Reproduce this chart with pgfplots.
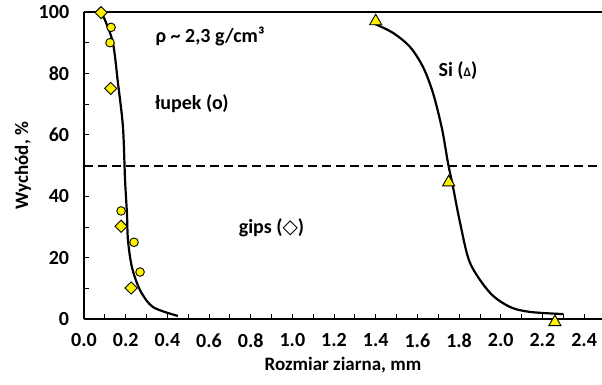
\documentclass[border=0pt]{standalone}
\usepackage{fontspec}
\setmainfont{Carlito}
\newfontfamily\dejavu{DejaVu Sans}
\usepackage{pgfplots}
\pgfplotsset{compat=1.18}
\begin{document}
\fontsize{20}{23}\selectfont
\begin{tikzpicture}
\begin{axis}[
  at={(0,0)}, anchor=south west,
  scale only axis, width=518pt, height=307pt,
  xmin=0, xmax=2.486, ymin=0, ymax=100,
  axis x line=bottom, axis y line=left,
  axis line style={-, line width=2.2pt},
  xtick={0,0.2,...,2.41}, minor x tick num=1,
  ytick={0,20,...,100}, minor y tick num=1,
  tick align=inside, major tick length=5pt, minor tick length=5pt,
  tick style={line width=0.8pt, black},
  ticklabel style={font=\fontsize{20}{23}\selectfont\bfseries},
  xticklabel style={yshift=-8pt, /pgf/number format/.cd, fixed, fixed zerofill, precision=1},
  yticklabel style={xshift=-8pt},
  /pgf/number format/assume math mode=true,
  xlabel={\bfseries Rozmiar ziarna, mm},
  ylabel={\bfseries Wychód, \%},
  label style={font=\fontsize{19}{22}\selectfont},
  xlabel style={yshift=4pt},
  ylabel style={yshift=-6pt},
  clip=false,
]
\draw[line width=2.2pt] (rel axis cs:0,1) -- (rel axis cs:1,1);
\addplot[black, line width=2pt, dash pattern=on 9pt off 5pt] coordinates {(0,50) (2.486,50)};
% fitted curve for lupek/gips
\addplot[black, line width=2.2pt, smooth, tension=0.5] coordinates {
 (0.080,100) (0.100,97.5) (0.139,89.9) (0.163,76.9) (0.187,62.5) (0.197,45.3)
 (0.206,34.5) (0.211,25.7) (0.230,16.9) (0.269,9.4) (0.331,3.9) (0.451,1.0)};
% fitted curve for Si
\addplot[black, line width=2.2pt, smooth, tension=0.5] coordinates {
 (1.387,96.4) (1.483,93.2) (1.565,88.6) (1.627,82.1) (1.675,73.6) (1.718,62.0)
 (1.747,50.8) (1.771,43.0) (1.805,31.3) (1.853,18.2) (1.949,8.5) (2.045,3.9)
 (2.141,2.3) (2.300,1.6)};
% gips (diamonds)
\addplot[only marks, mark=square*, mark size=4.3pt, mark options={fill=yellow, draw=black, line width=0.9pt, rotate=45}]
 coordinates {(0.082,99.8) (0.128,75.1) (0.178,30.2) (0.226,10.1)};
% lupek (circles)
\addplot[only marks, mark=*, mark size=4.3pt, mark options={fill=yellow, draw=black, line width=0.9pt}]
 coordinates {(0.130,95.0) (0.125,90.0) (0.178,35.2) (0.240,25.0) (0.269,15.3)};
% Si (triangles)
\addplot[only marks, mark=triangle*, mark size=7pt, mark options={fill=yellow, draw=black, line width=0.9pt}]
 coordinates {(1.400,97.0) (1.750,44.5) (2.260,-1.0)};
\node[font=\fontsize{20}{23}\selectfont\bfseries] at (axis cs:0.605,91.9) {ρ \textasciitilde\ 2,3 g/cm³};
\node[font=\fontsize{20}{23}\selectfont\bfseries] at (axis cs:0.518,70) {łupek (o)};
\node[font=\fontsize{20}{23}\selectfont\bfseries] at (axis cs:0.90,29.6) {gips ({\dejavu\bfseries ◇})};
\node[font=\fontsize{20}{23}\selectfont\bfseries] at (axis cs:1.795,81) {Si ({\fontsize{13}{15}\selectfont Δ})};
\end{axis}
\pgfresetboundingbox
\path (-84pt,-65pt) rectangle (518pt,319pt);
\end{tikzpicture}
\end{document}
